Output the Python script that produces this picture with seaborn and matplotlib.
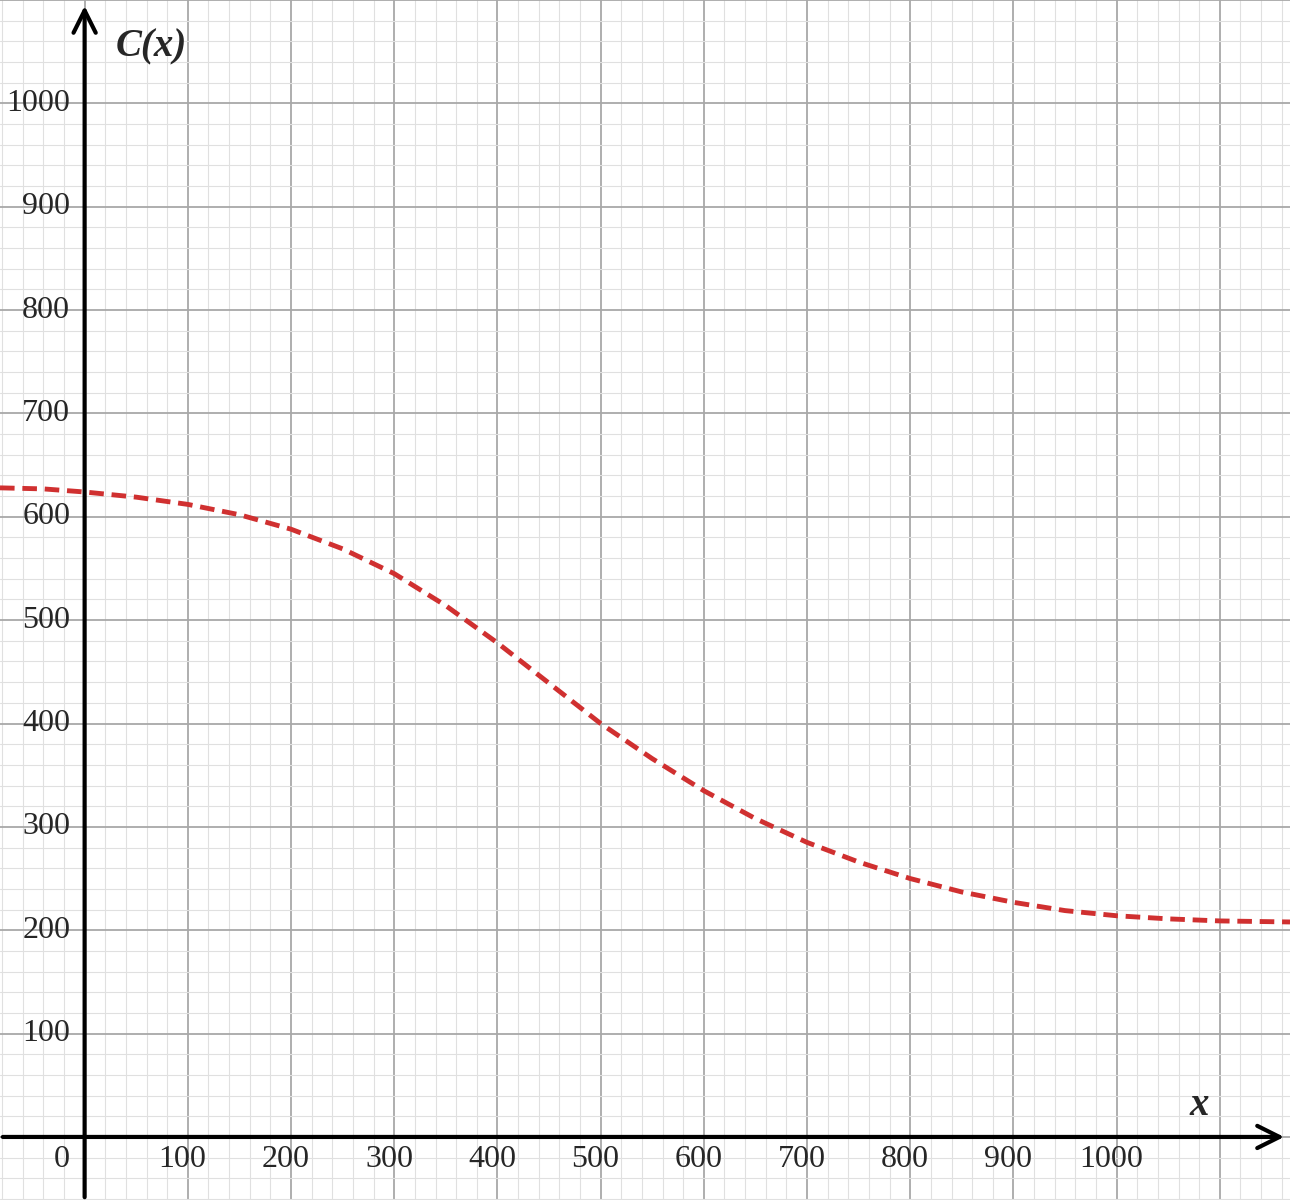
import matplotlib
matplotlib.use("Agg")
import matplotlib.pyplot as plt
import seaborn as sns
import numpy as np
import pandas as pd

x_vals = [-82, -40, 0, 50, 100, 150, 200, 250, 300, 350, 400, 450, 500, 550, 600, 650, 700, 750, 800, 850, 900, 950, 1000, 1050, 1100, 1168]
c_vals = [628, 627, 624, 619, 612, 602, 588, 569, 545, 514, 478, 439, 400, 366, 335, 308, 285, 266, 250, 237, 227, 219, 214, 211, 209, 208]
x_ticks = [100, 200, 300, 400, 500, 600, 700, 800, 900, 1000]
y_ticks = [100, 200, 300, 400, 500, 600, 700, 800, 900, 1000]

sns.set_style("white")
plt.rcParams['font.family'] = ['Liberation Serif', 'DejaVu Serif']

fig = plt.figure(figsize=(12.9, 12), dpi=100)
ax = fig.add_axes([0, 0, 1, 1])
xmin, xmax, ymin, ymax = -82, 1168, -61, 1100
ax.set_xlim(xmin, xmax); ax.set_ylim(ymin, ymax)
ax.axis('off')

for v in np.arange(-80, 1170, 20):
    major = (v % 100 == 0)
    ax.axvline(v, color='#a8a8a8' if major else '#e0e0e0', lw=1.3 if major else 0.8, zorder=0)
for v in np.arange(-60, 1101, 20):
    major = (v % 100 == 0)
    ax.axhline(v, color='#a8a8a8' if major else '#e0e0e0', lw=1.3 if major else 0.8, zorder=0)

df = pd.DataFrame({"x": x_vals, "C": c_vals})
sns.lineplot(data=df, x="x", y="C", ax=ax, color='#d03030', lw=3.5, zorder=3)
ax.lines[-1].set_dashes([3, 1.6])

ax.annotate('', xy=(xmax - 3, 0), xytext=(xmin, 0),
            arrowprops=dict(arrowstyle='->', lw=3, color='black', mutation_scale=40), zorder=4)
ax.annotate('', xy=(0, ymax - 3), xytext=(0, ymin),
            arrowprops=dict(arrowstyle='->', lw=3, color='black', mutation_scale=40), zorder=4)

for t in x_ticks:
    ax.text(t - 5, -22, str(t), ha='center', va='center', fontsize=23)
ax.text(-22, -22, '0', ha='center', va='center', fontsize=23)
for t in y_ticks:
    ax.text(-14, t, str(t), ha='right', va='center', fontsize=23)

ax.text(30, 1055, 'C(x)', fontsize=28, fontweight='bold', style='italic', va='center')
ax.text(1080, 30, 'x', fontsize=28, fontweight='bold', style='italic', va='center', ha='center')

fig.savefig("out.png", dpi=100)
